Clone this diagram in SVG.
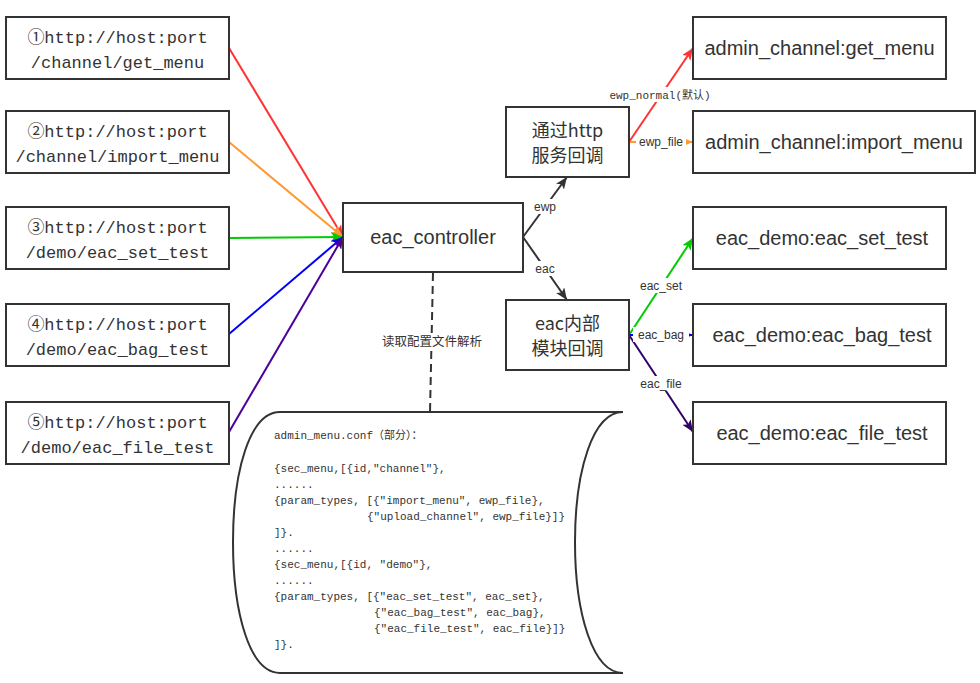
<svg xmlns="http://www.w3.org/2000/svg" width="980" height="683" viewBox="0 0 980 683">
<style>
.box{fill:#fff;stroke:#333;stroke-width:2}
.mono{font-family:"Liberation Mono","Noto Sans CJK SC",monospace;fill:#333}
.url{font-size:17px;text-anchor:middle}
.sans{font-family:"Liberation Sans","Noto Sans CJK SC",sans-serif;fill:#333}
.big{font-size:20px;text-anchor:middle}
.cjk{font-family:"Noto Sans CJK SC",sans-serif;fill:#333;font-size:18px;text-anchor:middle}
.lbl{font-family:"Liberation Sans","Noto Sans CJK SC",sans-serif;font-size:12px;fill:#333;text-anchor:middle}
.code{font-family:"Liberation Mono","Noto Sans CJK SC",monospace;font-size:11px;fill:#333}
.ln{fill:none;stroke-width:2}
.lb{fill:#fff}
</style>
<defs>
<marker id="aRed" viewBox="0 0 12 10" refX="12" refY="5" markerWidth="12" markerHeight="10" markerUnits="userSpaceOnUse" orient="auto"><path d="M0,0 L12,5 L0,10 L3,5 z" fill="#FF3333"/></marker>
<marker id="aOr" viewBox="0 0 12 10" refX="12" refY="5" markerWidth="12" markerHeight="10" markerUnits="userSpaceOnUse" orient="auto"><path d="M0,0 L12,5 L0,10 L3,5 z" fill="#FF9933"/></marker>
<marker id="aGr" viewBox="0 0 12 10" refX="12" refY="5" markerWidth="12" markerHeight="10" markerUnits="userSpaceOnUse" orient="auto"><path d="M0,0 L12,5 L0,10 L3,5 z" fill="#00CC00"/></marker>
<marker id="aBl" viewBox="0 0 12 10" refX="12" refY="5" markerWidth="12" markerHeight="10" markerUnits="userSpaceOnUse" orient="auto"><path d="M0,0 L12,5 L0,10 L3,5 z" fill="#0000FF"/></marker>
<marker id="aPu" viewBox="0 0 12 10" refX="12" refY="5" markerWidth="12" markerHeight="10" markerUnits="userSpaceOnUse" orient="auto"><path d="M0,0 L12,5 L0,10 L3,5 z" fill="#4C0099"/></marker>
<marker id="aDp" viewBox="0 0 12 10" refX="12" refY="5" markerWidth="12" markerHeight="10" markerUnits="userSpaceOnUse" orient="auto"><path d="M0,0 L12,5 L0,10 L3,5 z" fill="#330066"/></marker>
<marker id="aDk" viewBox="0 0 12 10" refX="12" refY="5" markerWidth="12" markerHeight="10" markerUnits="userSpaceOnUse" orient="auto"><path d="M0,0 L12,5 L0,10 L3,5 z" fill="#333"/></marker>
</defs>
<rect width="980" height="683" fill="#fff"/>

<g id="connectors">
<line class="ln" x1="229" y1="48" x2="343" y2="237" stroke="#FF3333" marker-end="url(#aRed)"/>
<line class="ln" x1="229" y1="142" x2="343" y2="237" stroke="#FF9933" marker-end="url(#aOr)"/>
<line class="ln" x1="229" y1="238" x2="343" y2="237" stroke="#00CC00" marker-end="url(#aGr)"/>
<line class="ln" x1="229" y1="334" x2="343" y2="237" stroke="#0000FF" marker-end="url(#aBl)"/>
<line class="ln" x1="229" y1="432" x2="343" y2="237" stroke="#4C0099" marker-end="url(#aPu)"/>

<line class="ln" x1="523" y1="237" x2="567" y2="177" stroke="#333" marker-end="url(#aDk)"/>
<line class="ln" x1="523" y1="237" x2="567" y2="300" stroke="#333" marker-end="url(#aDk)"/>
<rect class="lb" x="533" y="199" width="24" height="15"/>
<text class="lbl" x="545" y="211">ewp</text>
<rect class="lb" x="533" y="261" width="24" height="15"/>
<text class="lbl" x="545" y="273">eac</text>

<line class="ln" x1="629" y1="142" x2="693" y2="48" stroke="#FF3333" marker-end="url(#aRed)"/>
<line class="ln" x1="629" y1="142" x2="693" y2="142" stroke="#FF9933" marker-end="url(#aOr)"/>
<rect class="lb" x="608" y="87" width="106" height="15"/>
<text class="code" x="660" y="99" text-anchor="middle">ewp_normal(默认)</text>
<rect class="lb" x="636" y="135" width="50" height="15"/>
<text class="lbl" x="661" y="146">ewp_file</text>

<line class="ln" x1="629" y1="335" x2="693" y2="238" stroke="#00CC00" marker-end="url(#aGr)"/>
<line class="ln" x1="629" y1="335" x2="693" y2="335" stroke="#0000FF" marker-end="url(#aBl)"/>
<line class="ln" x1="629" y1="335" x2="693" y2="432" stroke="#330066" marker-end="url(#aDp)"/>
<rect class="lb" x="636" y="278" width="50" height="15"/>
<text class="lbl" x="661" y="290">eac_set</text>
<rect class="lb" x="633" y="327" width="56" height="15"/>
<text class="lbl" x="661" y="339">eac_bag</text>
<rect class="lb" x="636" y="376" width="50" height="15"/>
<text class="lbl" x="661" y="388">eac_file</text>

<line x1="433" y1="273" x2="430" y2="412" stroke="#333" stroke-width="2" stroke-dasharray="8 5"/>
<rect class="lb" x="379" y="334" width="106" height="17"/>
<text x="432" y="346" font-family="'Noto Sans CJK SC',sans-serif" font-size="12.5" fill="#333" text-anchor="middle">读取配置文件解析</text>
</g>

<g id="n1"><rect class="box" x="6" y="17" width="223" height="62"/>
<text class="mono url" x="117.5" y="43">①http://host:port</text>
<text class="mono url" x="117.5" y="68">/channel/get_menu</text></g>
<g id="n2"><rect class="box" x="6" y="111" width="223" height="62"/>
<text class="mono url" x="117.5" y="137">②http://host:port</text>
<text class="mono url" x="117.5" y="162">/channel/import_menu</text></g>
<g id="n3"><rect class="box" x="6" y="207" width="223" height="62"/>
<text class="mono url" x="117.5" y="233">③http://host:port</text>
<text class="mono url" x="117.5" y="258">/demo/eac_set_test</text></g>
<g id="n4"><rect class="box" x="6" y="304" width="223" height="62"/>
<text class="mono url" x="117.5" y="330">④http://host:port</text>
<text class="mono url" x="117.5" y="355">/demo/eac_bag_test</text></g>
<g id="n5"><rect class="box" x="6" y="402" width="223" height="62"/>
<text class="mono url" x="117.5" y="428">⑤http://host:port</text>
<text class="mono url" x="117.5" y="453">/demo/eac_file_test</text></g>

<g id="controller"><rect class="box" x="343" y="203" width="180" height="69"/>
<text class="sans big" x="433" y="244">eac_controller</text></g>

<g id="http"><rect class="box" x="506" y="107" width="123" height="70"/>
<text class="cjk" x="567.5" y="137">通过http</text>
<text class="cjk" x="567.5" y="162">服务回调</text></g>

<g id="eac"><rect class="box" x="506" y="300" width="123" height="70"/>
<text class="cjk" x="567.5" y="330">eac内部</text>
<text class="cjk" x="567.5" y="355">模块回调</text></g>

<g id="getmenu"><rect class="box" x="693" y="17" width="253" height="62"/>
<text class="sans big" x="819.5" y="55">admin_channel:get_menu</text></g>
<g id="importmenu"><rect class="box" x="693" y="111" width="282" height="62"/>
<text class="sans big" x="834" y="149">admin_channel:import_menu</text></g>
<g id="settest"><rect class="box" x="693" y="207" width="253" height="62"/>
<text class="sans big" x="822" y="245">eac_demo:eac_set_test</text></g>
<g id="bagtest"><rect class="box" x="693" y="304" width="253" height="62"/>
<text class="sans big" x="822" y="342">eac_demo:eac_bag_test</text></g>
<g id="filetest"><rect class="box" x="693" y="402" width="253" height="62"/>
<text class="sans big" x="822" y="440">eac_demo:eac_file_test</text></g>

<g id="conf">
<path d="M623 412 L280 412 C250 412 233 470 233 542 C233 614 250 673 280 673 L623 673" fill="#fff" stroke="#333" stroke-width="2"/>
<path d="M623 412 C593 412 575 470 575 542 C575 614 593 673 623 673" fill="none" stroke="#333" stroke-width="2"/>
<g class="code">
<text x="274" y="439">admin_menu.conf（部分）：</text>
<text x="274" y="472">{sec_menu,[{id,"channel"},</text>
<text x="274" y="488">......</text>
<text x="274" y="504">{param_types, [{"import_menu", ewp_file},</text>
<text x="367" y="520">{"upload_channel", ewp_file}]}</text>
<text x="274" y="536">]}.</text>
<text x="274" y="552">......</text>
<text x="274" y="568">{sec_menu,[{id, "demo"},</text>
<text x="274" y="584">......</text>
<text x="274" y="600">{param_types, [{"eac_set_test", eac_set},</text>
<text x="374" y="616">{"eac_bag_test", eac_bag},</text>
<text x="374" y="632">{"eac_file_test", eac_file}]}</text>
<text x="274" y="648">]}.</text>
</g>
</g>
</svg>
